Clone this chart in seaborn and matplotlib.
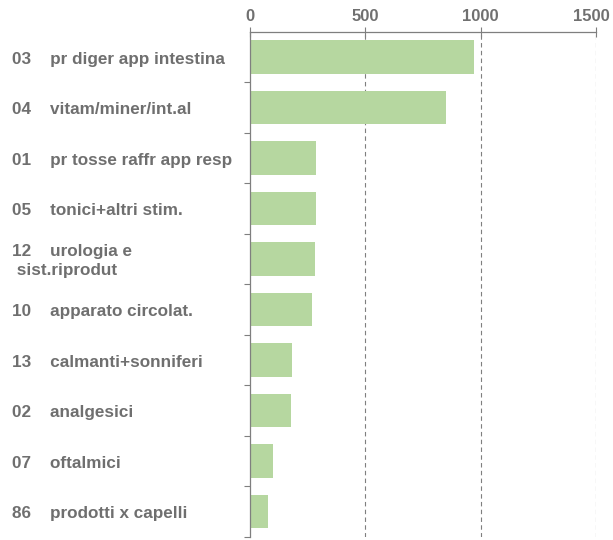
import matplotlib
matplotlib.use("Agg")
import matplotlib.pyplot as plt
import matplotlib.transforms as mtransforms
import seaborn as sns
import pandas as pd

categories = [
    "03    pr diger app intestina",
    "04    vitam/miner/int.al",
    "01    pr tosse raffr app resp",
    "05    tonici+altri stim.",
    "12    urologia e\n sist.riprodut",
    "10    apparato circolat.",
    "13    calmanti+sonniferi",
    "02    analgesici",
    "07    oftalmici",
    "86    prodotti x capelli",
]
values = [973, 851, 284, 284, 280, 267, 181, 176, 98, 77]
xticks = [0, 500, 1000, 1500]

sns.set_theme(style="white")
plt.rcParams["font.family"] = ["Liberation Sans", "DejaVu Sans"]

df = pd.DataFrame({"cat": categories, "val": values})

fig = plt.figure(figsize=(6.13, 5.40), dpi=100)
ax = fig.add_axes([0.408, 0.006, 0.564, 0.935])

sns.barplot(data=df, x="val", y="cat", orient="h", color="#b6d7a0",
            saturation=1, width=0.66, ax=ax, zorder=3, linewidth=0, edgecolor="none")

ax.set_xlim(0, 1500)
ax.set_ylim(len(categories) - 0.5, -0.5)
ax.set_xlabel("")
ax.set_ylabel("")

# top axis
ax.xaxis.tick_top()
ax.set_xticks(xticks)
ax.set_xticklabels([str(t) for t in xticks])
ax.tick_params(axis="x", direction="inout", length=7, width=0.8, color="#7f7f7f",
               labelsize=12, labelcolor="#707070", pad=2.5, top=True, bottom=False)
for lab in ax.get_xticklabels():
    lab.set_fontweight("bold")
ax.get_xticklabels()[-1].set_horizontalalignment("right")
offset = mtransforms.ScaledTranslation(14 / 100, 0, fig.dpi_scale_trans)
ax.get_xticklabels()[-1].set_transform(ax.get_xticklabels()[-1].get_transform() + offset)

# gridlines
for t in xticks[1:]:
    ax.axvline(t, color="#7f7f7f", lw=0.8, ls=(0, (4, 3)), zorder=1)

# y ticks at category boundaries
ax.set_yticks([i + 0.5 for i in range(len(categories))], minor=False)
ax.set_yticklabels([])
ax.tick_params(axis="y", direction="out", length=4, width=0.8, color="#7f7f7f", left=True)

for s in ["right", "bottom"]:
    ax.spines[s].set_visible(False)
for s in ["left", "top"]:
    ax.spines[s].set_color("#7f7f7f")
    ax.spines[s].set_linewidth(0.9)
    ax.spines[s].set_zorder(4)

# category labels
trans = mtransforms.blended_transform_factory(fig.transFigure, ax.transData)
for i, c in enumerate(categories):
    ax.text(12 / 613, i + 0.04, c, transform=trans, ha="left", va="center",
            fontsize=12.3, fontweight="bold", color="#6f6f6f",
            multialignment="left", linespacing=1.4)

fig.savefig("out.png", dpi=100, facecolor="white")
